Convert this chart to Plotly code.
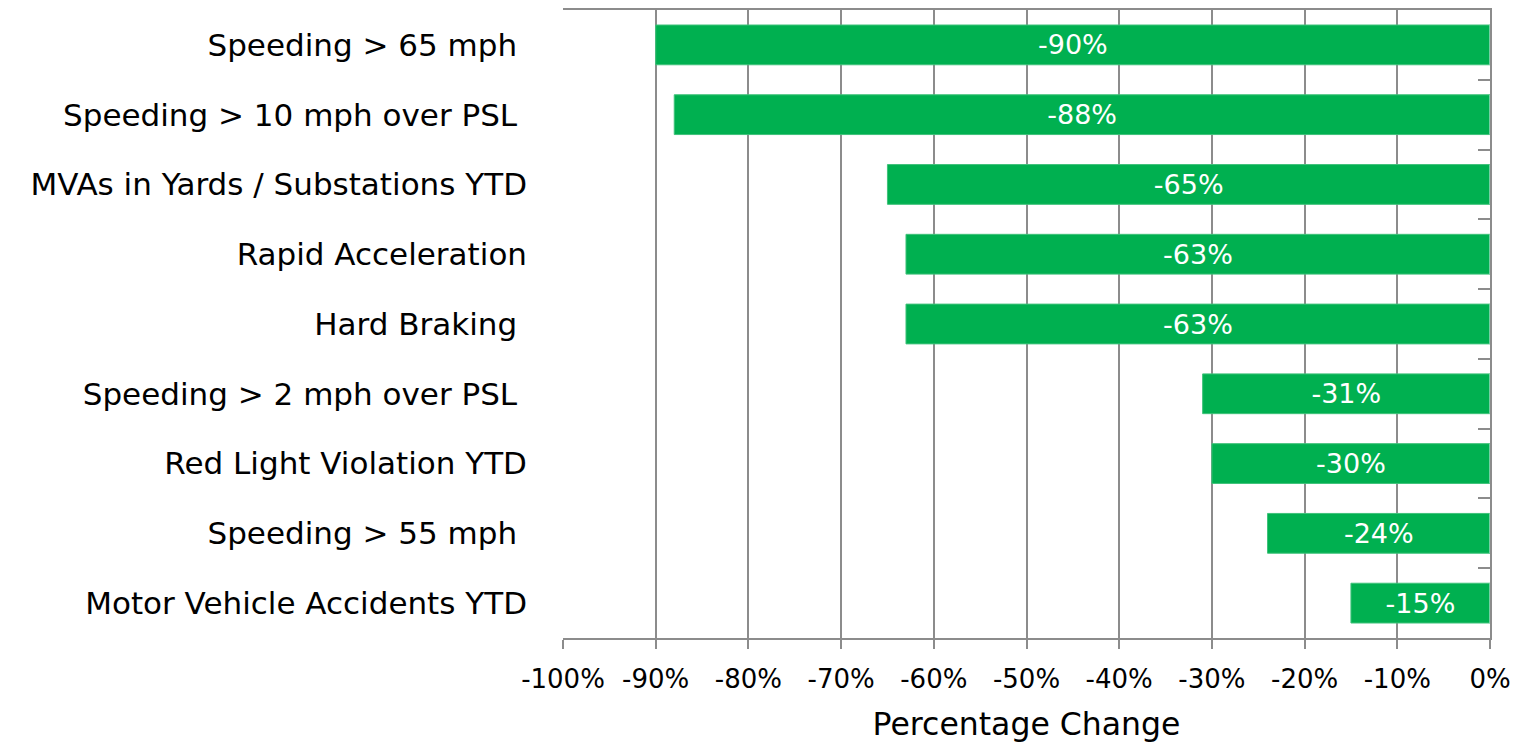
import plotly.graph_objects as go

categories = [
    "Speeding > 65 mph\u00a0",
    "Speeding > 10 mph over PSL\u00a0",
    "MVAs in Yards / Substations YTD",
    "Rapid Acceleration",
    "Hard Braking\u00a0",
    "Speeding > 2 mph over PSL\u00a0",
    "Red Light Violation YTD",
    "Speeding > 55 mph\u00a0",
    "Motor Vehicle Accidents YTD",
]
values = [-90, -88, -65, -63, -63, -31, -30, -24, -15]
x_tickvals = [-100, -90, -80, -70, -60, -50, -40, -30, -20, -10, 0]
x_ticktext = ["-100%", "-90%", "-80%", "-70%", "-60%", "-50%", "-40%", "-30%", "-20%", "-10%", "0%"]

FONT = "DejaVu Sans"
GRAY = "#8c8c8c"
GREEN = "#00b050"

fig = go.Figure()
fig.add_trace(go.Bar(
    y=categories, x=values, orientation="h",
    marker=dict(color=GREEN, line=dict(color="#3fc27a", width=1)),
    width=0.57,
    text=[f"{v}%" for v in values],
    textposition="inside", insidetextanchor="middle",
    textfont=dict(family=FONT, size=27, color="white"),
    hoverinfo="skip",
))
# invisible trace for right-side axis with boundary ticks
fig.add_trace(go.Bar(
    y=categories, x=[0] * len(categories), orientation="h",
    yaxis="y2", marker=dict(color="rgba(0,0,0,0)"), showlegend=False, hoverinfo="skip",
))

fig.update_layout(
    width=1513, height=734,
    margin=dict(l=555, r=31, t=0, b=104),
    plot_bgcolor="white", paper_bgcolor="white",
    showlegend=False,
    bargap=0.43,
    font=dict(family=FONT, color="black"),
    xaxis=dict(
        range=[-100, 0], tickvals=x_tickvals, ticktext=x_ticktext,
        showgrid=True, gridcolor=GRAY, gridwidth=1.5,
        showline=True, linecolor=GRAY, linewidth=1.5, mirror=True,
        ticks="outside", ticklen=9, tickcolor=GRAY, tickwidth=1.5,
        tickfont=dict(family=FONT, size=26, color="black"),
        ticklabelstandoff=8,
        zeroline=False,
        title=dict(text="Percentage Change", font=dict(family=FONT, size=31.5, color="black"), standoff=20),
    ),
    yaxis=dict(
        type="category", autorange="reversed",
        showgrid=False, showline=False, ticks="",
        tickfont=dict(family=FONT, size=31, color="black"),
        ticklabelstandoff=35,
    ),
    yaxis2=dict(
        type="category", autorange="reversed", overlaying="y", side="right",
        showgrid=False, showline=True, linecolor=GRAY, linewidth=1.5,
        ticks="inside", tickson="boundaries", ticklen=12, tickcolor=GRAY, tickwidth=1.5,
        showticklabels=False,
    ),
)

fig.write_html("out.html")
